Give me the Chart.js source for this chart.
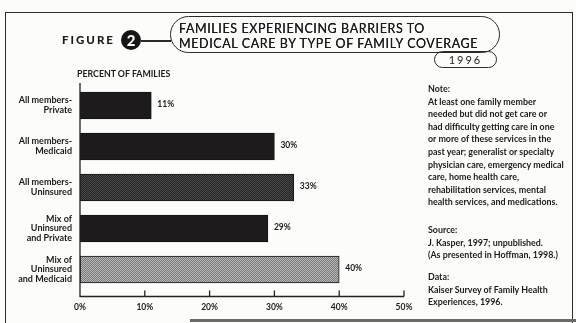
<!DOCTYPE html>
<html>
<head>
<meta charset="utf-8">
<script src="https://cdn.jsdelivr.net/npm/chart.js@4/dist/chart.umd.min.js"></script>
<style>
    html, body { margin: 0; padding: 0; background: #fcfcfa; }
    #page { position: relative; width: 576px; height: 323px; overflow: hidden; font-family: Lato, "Open Sans", sans-serif; color: #1b1b1b; }
    #chart { position: absolute; left: 0; top: 0; }
    .frame { position: absolute; left: 5px; top: 12px; width: 566px; height: 330px; border-left: 1.5px solid #2a2a2a; border-top: 1.5px solid #2a2a2a; border-right: 1.5px solid #2a2a2a; }
    .shadow { position: absolute; left: 190px; top: 319px; width: 386px; height: 3px; background: #6a6a6a; }
    .fig { position: absolute; left: 62px; top: 33px; font-size: 11.5px; font-weight: 900; letter-spacing: 2px; }
    .num { position: absolute; left: 121px; top: 30px; width: 20px; height: 20px; border-radius: 50%; background: #151515; color: #fff; font-weight: 900; font-size: 15px; line-height: 20px; text-align: center; }
    .link { position: absolute; left: 141px; top: 40px; width: 30px; height: 1.5px; background: #2a2a2a; }
    .pill { position: absolute; left: 170px; top: 16px; width: 328px; height: 35px; border: 1.5px solid #2a2a2a; border-radius: 19px; }
    .title { position: absolute; left: 179px; font-size: 12.5px; letter-spacing: 0.6px; line-height: 14px; text-shadow: 0 0 0.4px #1b1b1b; }
    .year { position: absolute; left: 434px; top: 51px; width: 61px; height: 15px; border: 1.5px solid #2a2a2a; border-radius: 9px; font-size: 11px; letter-spacing: 2px; line-height: 15px; text-align: center; }
    .unit { position: absolute; left: 77px; top: 68px; font-size: 8.8px; font-weight: 700; }
    .note { position: absolute; left: 428px; width: 148px; font-size: 8.9px; font-weight: 700; line-height: 12.6px; white-space: nowrap; }
</style>
</head>
<body>
<div id="page">
    <canvas id="chart" width="576" height="323"></canvas>
    <div class="frame"></div>
    <div class="shadow"></div>
    <div class="fig">FIGURE</div>
    <div class="num">2</div>
    <div class="link"></div>
    <div class="pill"></div>
    <div class="title" style="top:22px">FAMILIES EXPERIENCING BARRIERS TO</div>
    <div class="title" style="top:37px">MEDICAL CARE BY TYPE OF FAMILY COVERAGE</div>
    <div class="year">1996</div>
    <div class="unit">PERCENT OF FAMILIES</div>
    <div class="note" style="top:83px">Note:<br>At least one family member<br>needed but did not get care or<br>had difficulty getting care in one<br>or more of these services in the<br>past year; generalist or specialty<br>physician care, emergency medical<br>care, home health care,<br>rehabilitation services, mental<br>health services, and medications.</div>
    <div class="note" style="top:224px">Source:<br>J. Kasper, 1997; unpublished.<br>(As presented in Hoffman, 1998.)</div>
    <div class="note" style="top:271px">Data:<br>Kaiser Survey of Family Health<br>Experiences, 1996.</div>
</div>
<script>
const coverageTypes = [
    ["All members-", "Private"],
    ["All members-", "Medicaid"],
    ["All members-", "Uninsured"],
    ["Mix of", "Uninsured", "and Private"],
    ["Mix of", "Uninsured", "and Medicaid"]
];
const percentOfFamilies = [11, 30, 33, 29, 40];
const xTickValues = [0, 10, 20, 30, 40, 50];

// little dither tiles so the grey bars look like the printed screen
function makeTile(a, b) {
    const c = document.createElement("canvas");
    c.width = 2;
    c.height = 2;
    const g = c.getContext("2d");
    g.fillStyle = a;
    g.fillRect(0, 0, 2, 2);
    g.fillStyle = b;
    g.fillRect(0, 0, 1, 1);
    g.fillRect(1, 1, 1, 1);
    return g.createPattern(c, "repeat");
}

const ctx = document.getElementById("chart").getContext("2d");
const darkFill = "#1d1b1b";
const midTile = makeTile("#242424", "#4a4a4a");
const lightTile = makeTile("#777777", "#bbbbbb");
const barFills = [darkFill, darkFill, midTile, darkFill, lightTile];

const axisPlugin = {
    id: "axisLines",
    afterDatasetsDraw(chart) {
        const c = chart.ctx;
        const area = chart.chartArea;
        const xs = chart.scales.x;
        const baseY = area.bottom + 6.5;
        c.save();
        c.strokeStyle = "#222";
        c.lineWidth = 1.3;
        c.beginPath();
        c.moveTo(area.left, area.top - 2);
        c.lineTo(area.left, baseY);
        c.lineTo(xs.getPixelForValue(50), baseY);
        xTickValues.slice(1).forEach(v => {
            const px = xs.getPixelForValue(v);
            c.moveTo(px, baseY);
            c.lineTo(px, baseY - 6);
        });
        c.stroke();

        // value labels at the bar ends
        c.fillStyle = "#1b1b1b";
        c.font = "bold 8.5px Lato";
        c.textBaseline = "middle";
        chart.getDatasetMeta(0).data.forEach((bar, i) => {
            c.fillText(percentOfFamilies[i] + "%", bar.x + 6, bar.y - 1);
        });
        c.restore();
    }
};

new Chart(ctx, {
    type: "bar",
    data: {
        labels: coverageTypes,
        datasets: [
            {
                data: percentOfFamilies,
                backgroundColor: barFills,
                borderColor: "#141414",
                borderWidth: 1,
                borderSkipped: false,
                barThickness: 27
            }
        ]
    },
    options: {
        indexAxis: "y",
        responsive: false,
        animation: false,
        devicePixelRatio: 1,
        layout: { padding: { left: 0, top: 85, right: 172, bottom: 0 } },
        plugins: {
            legend: { display: false },
            tooltip: { enabled: false }
        },
        scales: {
            x: {
                min: 0,
                max: 50,
                afterBuildTicks: (s) => { s.ticks = xTickValues.map(v => ({ value: v })); },
                afterFit: (s) => { s.height = 33; },
                grid: { display: false, drawTicks: false },
                border: { display: false },
                ticks: {
                    padding: 12,
                    color: "#1b1b1b",
                    font: { family: "Lato", size: 8.5, weight: "bold" },
                    callback: (v) => v + "%"
                }
            },
            y: {
                afterFit: (s) => { s.width = 80; },
                grid: { display: false, drawTicks: false },
                border: { display: false },
                ticks: {
                    padding: 8,
                    color: "#1b1b1b",
                    font: { family: "Lato", size: 9, weight: "bold", lineHeight: 1.1 }
                }
            }
        }
    },
    plugins: [axisPlugin]
});
</script>
</body>
</html>
